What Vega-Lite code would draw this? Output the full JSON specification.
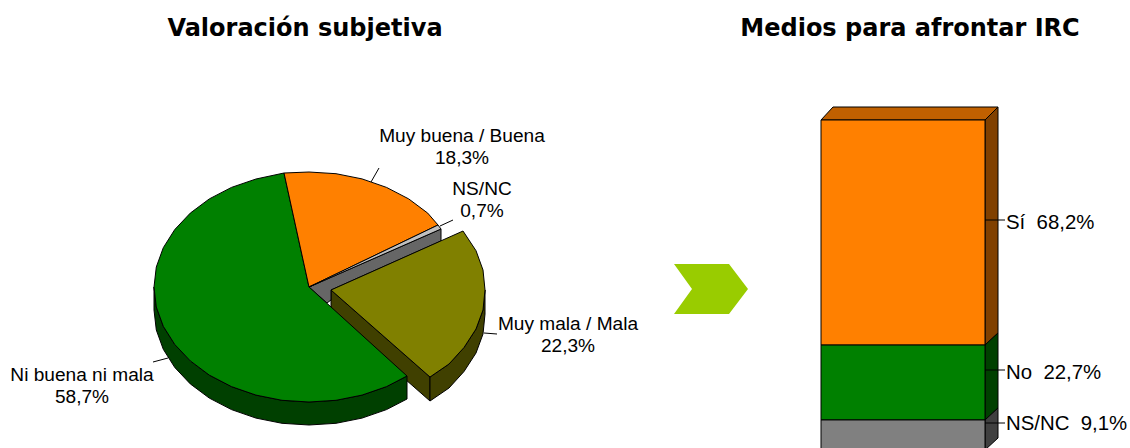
{"$schema":"https://vega.github.io/schema/vega-lite/v6.json","width":1130,"height":448,"padding":0,"autosize":"none","background":"white","config":{"view":{"stroke":null}},
"datasets":{
"barras":[{"respuesta":"Sí","porcentaje":68.2,"orden":3},{"respuesta":"No","porcentaje":22.7,"orden":2},{"respuesta":"NS/NC","porcentaje":9.1,"orden":1}],
"contorno":[
{"p":"olivaPared","s":1,"x":331,"y":290},{"p":"olivaPared","s":2,"x":331,"y":314},{"p":"olivaPared","s":3,"x":430,"y":401},{"p":"olivaPared","s":4,"x":430,"y":377},{"p":"olivaPared","s":5,"x":331,"y":290},
{"p":"olivaCanto","s":1,"x":430,"y":377},{"p":"olivaCanto","s":2,"x":449,"y":364},{"p":"olivaCanto","s":3,"x":464,"y":347.5},{"p":"olivaCanto","s":4,"x":476,"y":329},{"p":"olivaCanto","s":5,"x":483,"y":310},{"p":"olivaCanto","s":6,"x":485,"y":290},{"p":"olivaCanto","s":7,"x":485,"y":314},{"p":"olivaCanto","s":8,"x":483,"y":334},{"p":"olivaCanto","s":9,"x":476,"y":353},{"p":"olivaCanto","s":10,"x":464,"y":371.5},{"p":"olivaCanto","s":11,"x":449,"y":388},{"p":"olivaCanto","s":12,"x":430,"y":401},{"p":"olivaCanto","s":13,"x":430,"y":377},
{"p":"pared","s":1,"x":309,"y":287},{"p":"pared","s":2,"x":441,"y":229},{"p":"pared","s":3,"x":441,"y":241},{"p":"pared","s":4,"x":331,"y":290},{"p":"pared","s":5,"x":331,"y":300},{"p":"pared","s":6,"x":327,"y":303},{"p":"pared","s":7,"x":309,"y":287},
{"p":"verdeCanto","s":1,"x":154,"y":287},{"p":"verdeCanto","s":2,"x":156.3,"y":307},{"p":"verdeCanto","s":3,"x":163.3,"y":326.3},{"p":"verdeCanto","s":4,"x":174.8,"y":344.5},{"p":"verdeCanto","s":5,"x":190.3,"y":360.9},{"p":"verdeCanto","s":6,"x":209.3,"y":375.1},{"p":"verdeCanto","s":7,"x":231.5,"y":386.6},{"p":"verdeCanto","s":8,"x":256,"y":395.1},{"p":"verdeCanto","s":9,"x":282,"y":400.3},{"p":"verdeCanto","s":10,"x":309,"y":402},{"p":"verdeCanto","s":11,"x":336,"y":400.3},{"p":"verdeCanto","s":12,"x":362,"y":395.1},{"p":"verdeCanto","s":13,"x":386.5,"y":386.6},{"p":"verdeCanto","s":14,"x":407,"y":376},{"p":"verdeCanto","s":15,"x":407,"y":399},{"p":"verdeCanto","s":16,"x":386.5,"y":409.6},{"p":"verdeCanto","s":17,"x":362,"y":418.1},{"p":"verdeCanto","s":18,"x":336,"y":423.3},{"p":"verdeCanto","s":19,"x":309,"y":425},{"p":"verdeCanto","s":20,"x":282,"y":423.3},{"p":"verdeCanto","s":21,"x":256,"y":418.1},{"p":"verdeCanto","s":22,"x":231.5,"y":409.6},{"p":"verdeCanto","s":23,"x":209.3,"y":398.1},{"p":"verdeCanto","s":24,"x":190.3,"y":383.9},{"p":"verdeCanto","s":25,"x":174.8,"y":367.5},{"p":"verdeCanto","s":26,"x":163.3,"y":349.3},{"p":"verdeCanto","s":27,"x":156.3,"y":330},{"p":"verdeCanto","s":28,"x":154,"y":310},{"p":"verdeCanto","s":29,"x":154,"y":287},
{"p":"verde","s":1,"x":309,"y":287},{"p":"verde","s":2,"x":284,"y":173},{"p":"verde","s":3,"x":256,"y":179},{"p":"verde","s":4,"x":231.5,"y":187.4},{"p":"verde","s":5,"x":209.3,"y":198.9},{"p":"verde","s":6,"x":190.3,"y":213.1},{"p":"verde","s":7,"x":174.8,"y":229.5},{"p":"verde","s":8,"x":163.3,"y":247.7},{"p":"verde","s":9,"x":156.3,"y":267},{"p":"verde","s":10,"x":154,"y":287},{"p":"verde","s":11,"x":156.3,"y":307},{"p":"verde","s":12,"x":163.3,"y":326.3},{"p":"verde","s":13,"x":174.8,"y":344.5},{"p":"verde","s":14,"x":190.3,"y":360.9},{"p":"verde","s":15,"x":209.3,"y":375.1},{"p":"verde","s":16,"x":231.5,"y":386.6},{"p":"verde","s":17,"x":256,"y":395.1},{"p":"verde","s":18,"x":282,"y":400.3},{"p":"verde","s":19,"x":309,"y":402},{"p":"verde","s":20,"x":336,"y":400.3},{"p":"verde","s":21,"x":362,"y":395.1},{"p":"verde","s":22,"x":386.5,"y":386.6},{"p":"verde","s":23,"x":407,"y":376},{"p":"verde","s":24,"x":309,"y":287},
{"p":"naranja","s":1,"x":309,"y":287},{"p":"naranja","s":2,"x":284,"y":173},{"p":"naranja","s":3,"x":309,"y":172},{"p":"naranja","s":4,"x":336,"y":173.7},{"p":"naranja","s":5,"x":362,"y":178.9},{"p":"naranja","s":6,"x":386.5,"y":187.4},{"p":"naranja","s":7,"x":408.7,"y":198.9},{"p":"naranja","s":8,"x":427.7,"y":213.1},{"p":"naranja","s":9,"x":438,"y":225},{"p":"naranja","s":10,"x":309,"y":287},
{"p":"gris","s":1,"x":309,"y":287},{"p":"gris","s":2,"x":438,"y":225},{"p":"gris","s":3,"x":441,"y":229},{"p":"gris","s":4,"x":309,"y":287},
{"p":"oliva","s":1,"x":331,"y":290},{"p":"oliva","s":2,"x":463,"y":231},{"p":"oliva","s":3,"x":476,"y":250.7},{"p":"oliva","s":4,"x":483,"y":270},{"p":"oliva","s":5,"x":485,"y":290},{"p":"oliva","s":6,"x":483,"y":310},{"p":"oliva","s":7,"x":476,"y":329},{"p":"oliva","s":8,"x":464,"y":347.5},{"p":"oliva","s":9,"x":449,"y":364},{"p":"oliva","s":10,"x":430,"y":377},{"p":"oliva","s":11,"x":331,"y":290},
{"p":"barraTecho","s":1,"x":821,"y":120},{"p":"barraTecho","s":2,"x":833,"y":107},{"p":"barraTecho","s":3,"x":998,"y":107},{"p":"barraTecho","s":4,"x":985,"y":120},{"p":"barraTecho","s":5,"x":821,"y":120},
{"p":"barraNaranja","s":1,"x":985,"y":120},{"p":"barraNaranja","s":2,"x":998,"y":107},{"p":"barraNaranja","s":3,"x":998,"y":333},{"p":"barraNaranja","s":4,"x":985,"y":345},{"p":"barraNaranja","s":5,"x":985,"y":120},
{"p":"barraVerde","s":1,"x":985,"y":345},{"p":"barraVerde","s":2,"x":998,"y":333},{"p":"barraVerde","s":3,"x":998,"y":408},{"p":"barraVerde","s":4,"x":985,"y":420},{"p":"barraVerde","s":5,"x":985,"y":345},
{"p":"barraGris","s":1,"x":985,"y":420},{"p":"barraGris","s":2,"x":998,"y":408},{"p":"barraGris","s":3,"x":998,"y":438},{"p":"barraGris","s":4,"x":985,"y":450},{"p":"barraGris","s":5,"x":985,"y":420}
],
"flecha":[{"s":1,"x":674,"y":264},{"s":2,"x":729,"y":264},{"s":3,"x":748,"y":289},{"s":4,"x":729,"y":314},{"s":5,"x":674,"y":314},{"s":6,"x":692,"y":289},{"s":7,"x":674,"y":264}],
"guias":[
{"g":"a","s":1,"x":371,"y":182},{"g":"a","s":2,"x":379,"y":168},
{"g":"b","s":1,"x":440,"y":226},{"g":"b","s":2,"x":453,"y":220},
{"g":"c","s":1,"x":484,"y":333},{"g":"c","s":2,"x":497,"y":334},
{"g":"d","s":1,"x":153,"y":362},{"g":"d","s":2,"x":168,"y":358},
{"g":"e","s":1,"x":985,"y":220},{"g":"e","s":2,"x":1005,"y":220},
{"g":"f","s":1,"x":985,"y":370},{"g":"f","s":2,"x":1005,"y":370},
{"g":"h","s":1,"x":985,"y":423},{"g":"h","s":2,"x":1005,"y":423}
],
"rotulos":[
{"t":"Muy buena / Buena\n18,3%","x":462,"y":136},
{"t":"NS/NC\n0,7%","x":482,"y":189},
{"t":"Muy mala / Mala\n22,3%","x":568,"y":324},
{"t":"Ni buena ni mala\n58,7%","x":82,"y":375}
],
"rotulosBarra":[
{"t":"Sí\u00a0\u00a068,2%","x":1006,"y":222.5},
{"t":"No\u00a0\u00a022,7%","x":1006,"y":372.5},
{"t":"NS/NC\u00a0\u00a09,1%","x":1006,"y":423.5}
],
"titulos":[
{"t":"Valoración subjetiva","x":305,"y":29},
{"t":"Medios para afrontar IRC","x":910,"y":29}
]},
"resolve":{"scale":{"x":"independent","y":"independent","fill":"independent"}},
"layer":[
{"data":{"name":"contorno"},"mark":{"type":"line","stroke":"black","strokeWidth":1,"strokeJoin":"miter"},
"encoding":{"x":{"field":"x","type":"quantitative","axis":null,"scale":{"domain":[0,1130],"nice":false,"zero":false}},
"y":{"field":"y","type":"quantitative","axis":null,"scale":{"domain":[448,0],"nice":false,"zero":false}},
"order":{"field":"s","type":"quantitative"},
"fill":{"field":"p","type":"nominal","legend":null,"scale":{
"domain":["olivaPared","olivaCanto","pared","verdeCanto","verde","naranja","gris","oliva","barraTecho","barraNaranja","barraVerde","barraGris"],
"range":["#404000","#404000","#666666","#004000","#008000","#FF8000","#C0C0C0","#808000","#C06000","#804000","#004000","#404040"]}}}},
{"data":{"name":"barras"},"mark":{"type":"bar","stroke":"black","strokeWidth":1,"clip":true},
"encoding":{"x":{"datum":"Medios para afrontar IRC","type":"nominal","axis":null,"scale":{"range":[821,985],"paddingInner":0,"paddingOuter":0}},
"y":{"field":"porcentaje","type":"quantitative","stack":"zero","axis":null,"scale":{"domain":[0.606,136.36],"nice":false,"zero":false}},
"order":{"field":"orden","type":"quantitative"},
"fill":{"field":"respuesta","type":"nominal","legend":null,"scale":{"domain":["Sí","No","NS/NC"],"range":["#FF8000","#008000","#808080"]}}}},
{"data":{"name":"flecha"},"mark":{"type":"line","fill":"#99CC00","stroke":null,"strokeWidth":0},
"encoding":{"x":{"field":"x","type":"quantitative","axis":null,"scale":{"domain":[0,1130],"nice":false,"zero":false}},
"y":{"field":"y","type":"quantitative","axis":null,"scale":{"domain":[448,0],"nice":false,"zero":false}},
"order":{"field":"s","type":"quantitative"}}},
{"data":{"name":"guias"},"mark":{"type":"line","stroke":"black","strokeWidth":1},
"encoding":{"x":{"field":"x","type":"quantitative","axis":null,"scale":{"domain":[0,1130],"nice":false,"zero":false}},
"y":{"field":"y","type":"quantitative","axis":null,"scale":{"domain":[448,0],"nice":false,"zero":false}},
"detail":{"field":"g"},"order":{"field":"s","type":"quantitative"}}},
{"data":{"name":"rotulos"},"mark":{"type":"text","font":"Liberation Sans","fontSize":19.1,"align":"center","baseline":"middle","lineBreak":"\n","lineHeight":21.7,"color":"black"},
"encoding":{"x":{"field":"x","type":"quantitative","axis":null,"scale":{"domain":[0,1130],"nice":false,"zero":false}},
"y":{"field":"y","type":"quantitative","axis":null,"scale":{"domain":[448,0],"nice":false,"zero":false}},
"text":{"field":"t"}}},
{"data":{"name":"rotulosBarra"},"mark":{"type":"text","font":"Liberation Sans","fontSize":20.4,"align":"left","baseline":"middle","color":"black"},
"encoding":{"x":{"field":"x","type":"quantitative","axis":null,"scale":{"domain":[0,1130],"nice":false,"zero":false}},
"y":{"field":"y","type":"quantitative","axis":null,"scale":{"domain":[448,0],"nice":false,"zero":false}},
"text":{"field":"t"}}},
{"data":{"name":"titulos"},"mark":{"type":"text","font":"DejaVu Sans","fontWeight":"bold","fontSize":24,"align":"center","baseline":"middle","color":"black"},
"encoding":{"x":{"field":"x","type":"quantitative","axis":null,"scale":{"domain":[0,1130],"nice":false,"zero":false}},
"y":{"field":"y","type":"quantitative","axis":null,"scale":{"domain":[448,0],"nice":false,"zero":false}},
"text":{"field":"t"}}}
]}
